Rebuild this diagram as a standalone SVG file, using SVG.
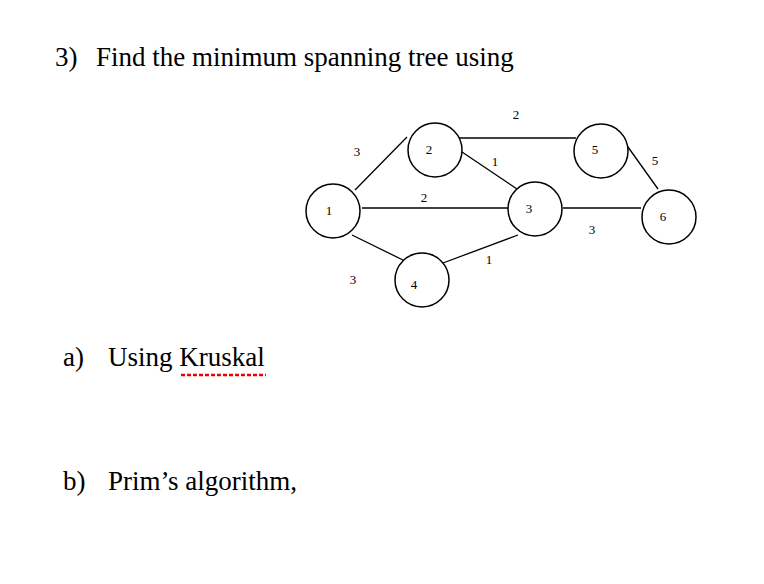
<svg xmlns="http://www.w3.org/2000/svg" width="764" height="584" viewBox="0 0 764 584">
<style>
.n{fill:#fff;stroke:#000;stroke-width:1.5}
.t{font-family:"Liberation Serif",serif;font-size:13px;text-anchor:middle}
.h{font-family:"Liberation Serif",serif;font-size:27px}
#edges line{stroke:#000;stroke-width:1.3}
</style>
<rect width="764" height="584" fill="#fff"/>
<text class="h" x="55" y="66">3)</text>
<text class="h" x="96" y="66">Find the minimum spanning tree using</text>
<text class="h" x="63" y="366">a)</text>
<text class="h" x="108" y="366">Using Kruskal</text>
<line x1="181" y1="375" x2="266" y2="375" stroke="#e00" stroke-width="2.5" stroke-dasharray="4,2"/>
<text class="h" x="63" y="490">b)</text>
<text class="h" x="108" y="490">Prim’s algorithm,</text>
<g id="edges">
<line x1="355" y1="190" x2="407" y2="137"/>
<line x1="459" y1="138" x2="576" y2="138"/>
<line x1="462" y1="152" x2="517" y2="189"/>
<line x1="362" y1="208" x2="508" y2="208"/>
<line x1="563" y1="208" x2="641" y2="208"/>
<line x1="352" y1="235" x2="407" y2="262"/>
<line x1="443" y1="263" x2="518" y2="235"/>
<line x1="628" y1="147" x2="658" y2="189"/>
<text class="t" x="516" y="119">2</text>
<text class="t" x="357" y="156">3</text>
<text class="t" x="495" y="166">1</text>
<text class="t" x="655" y="165">5</text>
<text class="t" x="424" y="202">2</text>
<text class="t" x="592" y="234">3</text>
<text class="t" x="489" y="264">1</text>
<text class="t" x="353" y="284">3</text>
</g>
<g id="n1"><circle class="n" cx="333" cy="211" r="27"/><text class="t" x="329" y="215">1</text></g>
<g id="n2"><circle class="n" cx="435" cy="150" r="27"/><text class="t" x="429" y="154">2</text></g>
<g id="n3"><circle class="n" cx="535" cy="209" r="27"/><text class="t" x="529" y="213">3</text></g>
<g id="n4"><circle class="n" cx="422" cy="280" r="27"/><text class="t" x="414" y="289">4</text></g>
<g id="n5"><circle class="n" cx="601" cy="151" r="27"/><text class="t" x="595" y="154">5</text></g>
<g id="n6"><circle class="n" cx="669" cy="217" r="27"/><text class="t" x="663" y="221">6</text></g>
</svg>
